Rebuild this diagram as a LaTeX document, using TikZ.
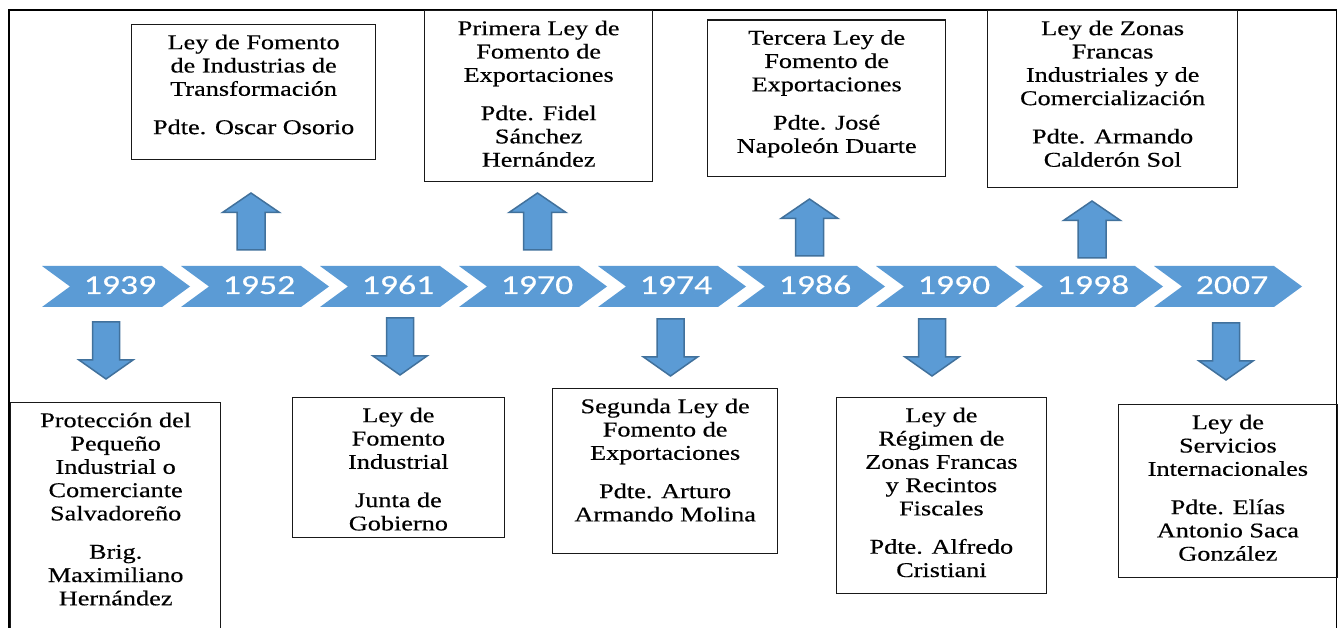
\documentclass[tikz,border=0pt]{standalone}
\usepackage{fontspec}
\setmainfont[FakeStretch=1.25,FakeBold=0.4]{Liberation Serif}
\newfontfamily\yearfont[FakeStretch=1.3,FakeBold=0.3]{Carlito}
\definecolor{chevblue}{HTML}{5B9BD5}
\definecolor{arrowedge}{HTML}{41719C}
\begin{document}
\begin{tikzpicture}[x=1pt,y=-1pt,
  chev/.style={fill=chevblue},
  yeartext/.style={font=\yearfont\fontsize{27.5}{30}\selectfont, text=white, inner sep=0pt, anchor=base},
  lawbox/.style={draw=black!90, line width=1.3pt, rectangle, inner sep=0pt, anchor=north west},
  lawtext/.style={align=center, inner sep=0pt, font=\fontsize{21}{23.3}\selectfont, anchor=north},
  blockarrow/.style={fill=chevblue, draw=arrowedge, line width=1.5pt, line join=miter},
  frameline/.style={draw=black, line width=1.8pt},
  uparrow/.pic={\draw[blockarrow] (0,0) -- (28.5,19.5) -- (14,19.5) -- (14,57) -- (-14,57) -- (-14,19.5) -- (-28.5,19.5) -- cycle;},
  downarrow/.pic={\draw[blockarrow] (0,0) -- (27,-19) -- (13.5,-19) -- (13.5,-57) -- (-13.5,-57) -- (-13.5,-19) -- (-27,-19) -- cycle;}
]
\useasboundingbox (0,0) rectangle (1342,628);
\clip (0,0) rectangle (1342,628);
\fill[white] (0,0) rectangle (1342,628);

% outer frame
\draw[frameline] (9,660) -- (9,10) -- (1336.5,10) -- (1336.5,660);

% chevrons
\foreach \yr [count=\i from 0] in {1939,1952,1961,1970,1974,1986,1990,1998,2007} {
  \pgfmathsetmacro\xs{42+139*\i}
  \fill[chev] (\xs,266) -- ++(120,0) -- ++(28,20.5) -- ++(-28,20.5) -- ++(-120,0) -- ++(28,-20.5) -- cycle;
  \node[yeartext] (y\yr) at (\xs+78,294) {\yr};
}

% block arrows
\pic at (251,193) {uparrow};
\pic at (537.5,193) {uparrow};
\pic at (809.5,199) {uparrow};
\pic at (1092,201) {uparrow};
\pic at (106,379) {downarrow};
\pic at (400,375) {downarrow};
\pic at (670.5,376) {downarrow};
\pic at (932,376) {downarrow};
\pic at (1226,380) {downarrow};

% top boxes
\node[lawbox, minimum width=244, minimum height=135] (b1952) at (131,24) {};
\node[lawtext] (t1952) at ([yshift=-9pt]b1952.north) {\rule{0pt}{16pt}Ley de Fomento\\ de Industrias de\\ Transformación\\[15pt] Pdte. Oscar Osorio};

\node[lawbox, minimum width=228, minimum height=171] (b1970) at (424,10) {};
\node[lawtext] (t1970) at ([yshift=-9pt]b1970.north) {\rule{0pt}{16pt}Primera Ley de\\ Fomento de\\ Exportaciones\\[15pt] Pdte. Fidel\\ Sánchez\\ Hernández};

\node[lawbox, minimum width=238, minimum height=156.5] (b1986) at (707,19.5) {};
\node[lawtext] (t1986) at ([yshift=-9pt]b1986.north) {\rule{0pt}{16pt}Tercera Ley de\\ Fomento de\\ Exportaciones\\[15pt] Pdte. José\\ Napoleón Duarte};

\node[lawbox, minimum width=250, minimum height=177] (b1998) at (987,10) {};
\node[lawtext] (t1998) at ([yshift=-9pt]b1998.north) {\rule{0pt}{16pt}Ley de Zonas\\ Francas\\ Industriales y de\\ Comercialización\\[15pt] Pdte. Armando\\ Calderón Sol};

% bottom boxes
\node[lawbox, minimum width=210, minimum height=250] (b1939) at (10,402) {};
\node[lawtext] (t1939) at ([yshift=-9pt]b1939.north) {\rule{0pt}{16pt}Protección del\\ Pequeño\\ Industrial o\\ Comerciante\\ Salvadoreño\\[15pt] Brig.\\ Maximiliano\\ Hernández};

\node[lawbox, minimum width=211.5, minimum height=140] (b1961) at (292,397) {};
\node[lawtext] (t1961) at ([yshift=-9pt]b1961.north) {\rule{0pt}{16pt}Ley de\\ Fomento\\ Industrial\\[15pt] Junta de\\ Gobierno};

\node[lawbox, minimum width=225, minimum height=165] (b1974) at (552,388) {};
\node[lawtext] (t1974) at ([yshift=-9pt]b1974.north) {\rule{0pt}{16pt}Segunda Ley de\\ Fomento de\\ Exportaciones\\[15pt] Pdte. Arturo\\ Armando Molina};

\node[lawbox, minimum width=210.5, minimum height=196] (b1990) at (835.5,397) {};
\node[lawtext] (t1990) at ([yshift=-9pt]b1990.north) {\rule{0pt}{16pt}Ley de\\ Régimen de\\ Zonas Francas\\ y Recintos\\ Fiscales\\[15pt] Pdte. Alfredo\\ Cristiani};

\node[lawbox, minimum width=218.5, minimum height=173] (b2007) at (1118,404) {};
\node[lawtext] (t2007) at ([yshift=-9pt]b2007.north) {\rule{0pt}{16pt}Ley de\\ Servicios\\ Internacionales\\[15pt] Pdte. Elías\\ Antonio Saca\\ González};
\end{tikzpicture}
\end{document}
